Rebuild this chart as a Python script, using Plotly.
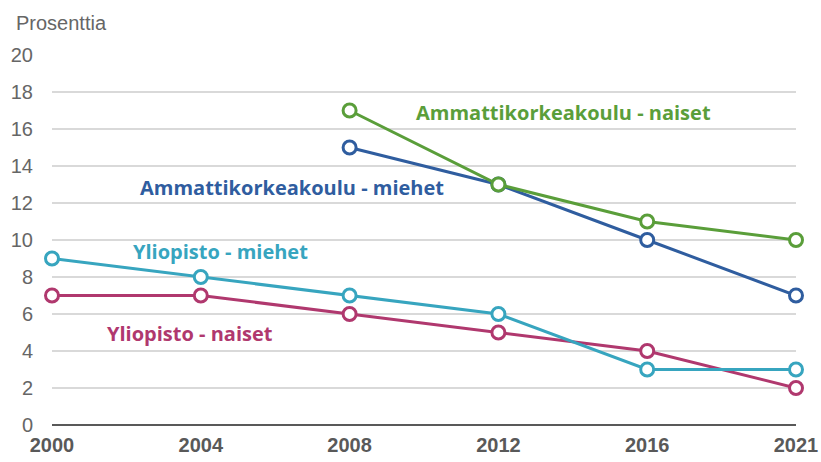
import plotly.graph_objects as go

years = ["2000", "2004", "2008", "2012", "2016", "2021"]
amk_naiset = [None, None, 17, 13, 11, 10]
amk_miehet = [None, None, 15, 13, 10, 7]
yo_miehet = [9, 8, 7, 6, 3, 3]
yo_naiset = [7, 7, 6, 5, 4, 2]

series = [
    ("Yliopisto - naiset", yo_naiset, "#b0386e"),
    ("Yliopisto - miehet", yo_miehet, "#37a5bf"),
    ("Ammattikorkeakoulu - miehet", amk_miehet, "#2f5d9f"),
    ("Ammattikorkeakoulu - naiset", amk_naiset, "#5a9e3a"),
]

xs = list(range(len(years)))
fig = go.Figure()
for name, vals, col in series:
    fig.add_trace(go.Scatter(
        x=xs, y=vals, name=name, mode="lines+markers",
        line=dict(color=col, width=3),
        marker=dict(symbol="circle", size=13, color="white",
                    line=dict(color=col, width=3)),
        cliponaxis=False, showlegend=False,
    ))

labels = [
    ("Ammattikorkeakoulu - naiset", 3.44, 16.9, "#5a9e3a"),
    ("Ammattikorkeakoulu - miehet", 1.61, 12.86, "#2f5d9f"),
    ("Yliopisto - miehet", 1.13, 9.4, "#37a5bf"),
    ("Yliopisto - naiset", 0.93, 4.97, "#b0386e"),
]
for text, x, y, col in labels:
    fig.add_annotation(x=x, y=y, text=f"<b>{text}</b>", showarrow=False,
                       font=dict(family="Open Sans", size=20, color=col),
                       xanchor="center", yanchor="middle")

fig.add_annotation(xref="paper", yref="paper", x=-38/744, y=1 + 32/370,
                   text="Prosenttia", showarrow=False, xanchor="left",
                   yanchor="middle",
                   font=dict(family="Liberation Sans", size=20, color="#666666"))

fig.update_layout(
    width=821, height=462,
    margin=dict(l=52, r=25, t=55, b=37),
    plot_bgcolor="white", paper_bgcolor="white",
    xaxis=dict(range=[0, 5], tickvals=xs, ticktext=[f"<b>{y}</b>" for y in years],
               showgrid=False, zeroline=False, showline=False, automargin=False,
               tickfont=dict(family="Liberation Sans", size=20, color="#595959"),
               ticks="", ticklabelstandoff=6),
    yaxis=dict(range=[0, 20], dtick=2, showgrid=True, gridcolor="#d9d9d9",
               gridwidth=2, zeroline=True, zerolinecolor="#595959",
               zerolinewidth=2, showline=False, ticks="", automargin=False,
               tickfont=dict(family="Liberation Sans", size=20, color="#666666"),
               ticklabelstandoff=18),
)

fig.write_html(
    "out.html",
    config={"displayModeBar": False},
    post_script="document.body.style.margin='0';document.body.style.overflow='hidden';",
)
